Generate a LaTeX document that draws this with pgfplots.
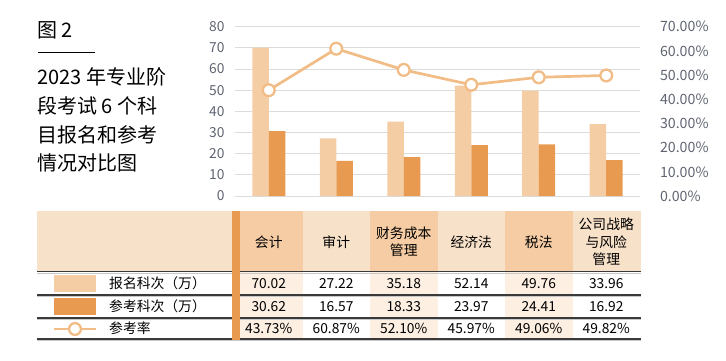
\documentclass[border=0pt]{standalone}
\usepackage{fontspec}
\setmainfont{Noto Sans CJK SC}
\usepackage{pgfplots}
\pgfplotsset{compat=1.18}
\definecolor{lightbar}{HTML}{F5CDA4}
\definecolor{darkbar}{HTML}{E89B50}
\definecolor{lineC}{HTML}{F2BC86}
\definecolor{gridgray}{HTML}{DCDCDC}
\definecolor{tickc}{HTML}{5F6472}
\definecolor{hdrlight}{HTML}{F8E1C9}
\definecolor{hdrdark}{HTML}{F5CCA3}
\definecolor{celltint}{HTML}{FDEFE2}
\definecolor{rulec}{HTML}{3A3A3A}
\definecolor{shadowc}{HTML}{C8C8C8}
\begin{document}
\begin{tikzpicture}
\path[use as bounding box] (0pt,0pt) rectangle (726pt,-361pt);
% ---------- chart ----------
\begin{axis}[
  scale only axis, width=405pt, height=169.4pt,
  at={(235pt,-196pt)}, anchor=south west,
  xmin=-0.5, xmax=5.5, ymin=0, ymax=80,
  ytick={0,10,...,80}, xtick=\empty,
  axis line style={draw=none},
  ymajorgrids, grid style={color=gridgray, line width=0.9pt},
  major tick length=0pt,
  /pgf/number format/assume math mode=true,
  yticklabel style={font=\fontsize{13.8}{13.8}\selectfont, text=tickc, xshift=-7pt},
  ybar, bar width=16.5pt, clip=false,
]
\addplot[fill=lightbar, draw=none, bar shift=-8.25pt] coordinates {(0,70.02) (1,27.22) (2,35.18) (3,52.14) (4,49.76) (5,33.96)};
\addplot[fill=darkbar, draw=none, bar shift=8.25pt] coordinates {(0,30.62) (1,16.57) (2,18.33) (3,23.97) (4,24.41) (5,16.92)};
\end{axis}
\begin{axis}[
  scale only axis, width=405pt, height=169.4pt,
  at={(235pt,-196pt)}, anchor=south west,
  xmin=-0.5, xmax=5.5, ymin=0, ymax=70,
  ytick={0,10,...,70}, xtick=\empty,
  axis x line=none, axis y line*=right,
  axis line style={draw=none},
  major tick length=0pt,
  /pgf/number format/assume math mode=true,
  yticklabel={\pgfmathprintnumber[fixed,fixed zerofill,precision=2]{\tick}\%},
  yticklabel style={font=\fontsize{14.2}{14.2}\selectfont, text=tickc, xshift=16.5pt},
  clip=false,
]
\addplot[lineC, line width=2.7pt, mark=*, mark size=5.9pt,
  mark options={fill=white, draw=lineC, line width=2.3pt}]
  coordinates {(0,43.73) (1,60.87) (2,52.10) (3,45.97) (4,49.06) (5,49.82)};
\end{axis}
% ---------- title ----------
\begin{scope}[x=1pt,y=-1pt]
\node[anchor=west, inner sep=0pt, font=\fontsize{20}{20}\selectfont] at (37,30) {图 2};
\draw[black, line width=1pt] (38,52.3) -- (95,52.3);
\foreach \t/\yy in {{2023 年专业阶}/77,{段考试 6 个科}/106,{目报名和参考}/135,{情况对比图}/163}{
  \node[anchor=west, inner sep=0pt, font=\fontsize{20}{20}\selectfont] at (37,\yy) {\t};
}
% ---------- table backgrounds ----------
\fill[hdrlight] (37.3,211) rectangle (640.7,271.7);
\foreach \c in {0,2,4}{
  \pgfmathsetmacro\xl{235+67.5*\c}
  \pgfmathsetmacro\xr{235+67.5*(\c+1)}
  \fill[hdrdark] (\xl,211) rectangle (\xr,271.7);
  \fill[celltint] (\xl,271.7) rectangle (\xr,339);
}
% rules
\foreach \yy in {271.7,295,318,339}{
  \draw[shadowc, line width=1pt] (37.3,\yy+1.3) -- (640.7,\yy+1.3);
  \draw[rulec, line width=1.2pt] (37.3,\yy) -- (640.7,\yy);
}
% stripe
\fill[darkbar] (231.7,211) rectangle (240,339.6);
% header texts
\begin{scope}[every node/.style={font=\fontsize{13.8}{17.5}\selectfont, align=center, inner sep=0pt}]
\node at (268.75,242) {会计};
\node at (336.25,242) {审计};
\node at (403.75,242) {财务成本\\管理};
\node at (471.25,242) {经济法};
\node at (538.75,242) {税法};
\node at (606.25,242) {公司战略\\与风险\\管理};
\end{scope}
% row labels and legend keys
\fill[lightbar] (54,275) rectangle (96,291.7);
\fill[darkbar] (54,298.3) rectangle (96,315);
\draw[lineC, line width=2.7pt] (54,329) -- (96,329);
\draw[lineC, line width=2.3pt, fill=white] (75,329) circle (5.9pt);
\begin{scope}[every node/.style={font=\fontsize{13.8}{13.8}\selectfont, anchor=west, inner sep=0pt}]
\node at (109,283.5) {报名科次（万）};
\node at (109,306.7) {参考科次（万）};
\node at (109,328.7) {参考率};
\end{scope}
% data texts
\begin{scope}[every node/.style={font=\fontsize{13.8}{13.8}\selectfont, inner sep=0pt}]
\foreach \v [count=\i from 0] in {70.02,27.22,35.18,52.14,49.76,33.96}{
  \node at (268.75+67.5*\i,283.5) {\v};
}
\foreach \v [count=\i from 0] in {30.62,16.57,18.33,23.97,24.41,16.92}{
  \node at (268.75+67.5*\i,306.7) {\v};
}
\foreach \v [count=\i from 0] in {43.73,60.87,52.10,45.97,49.06,49.82}{
  \node at (268.75+67.5*\i,328.7) {\v\%};
}
\end{scope}
\end{scope}
\end{tikzpicture}
\end{document}
